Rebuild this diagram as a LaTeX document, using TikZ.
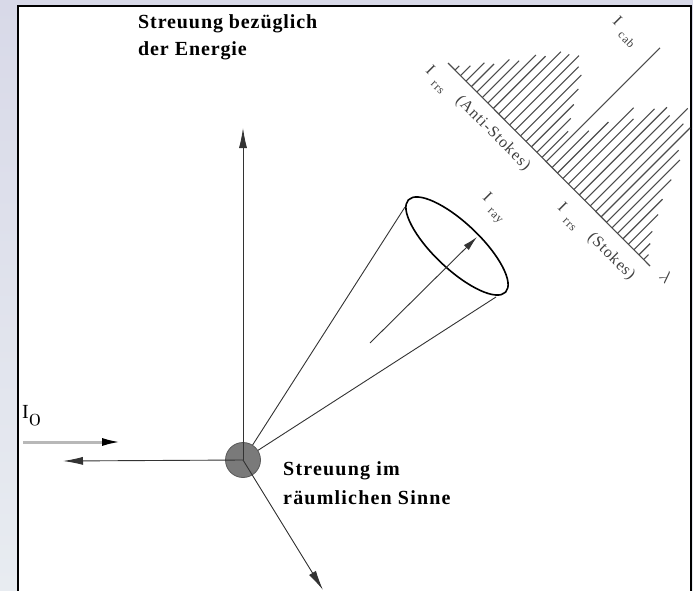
\documentclass[tikz,border=0pt]{standalone}
\usepackage{fontspec}
\setmainfont{Liberation Serif}
\newfontfamily\specfont[LetterSpace=6]{Liberation Serif}
\newfontfamily\topcapfont[LetterSpace=4.5]{Liberation Serif}
\newfontfamily\lowcapfont[LetterSpace=6]{Liberation Serif}
\usetikzlibrary{arrows.meta}
% intensity symbol with a lowered index
\newcommand\isub[1]{I\hspace{8pt}\raisebox{-6pt}{\fontsize{12}{12}\selectfont #1}}
\begin{document}
\begin{tikzpicture}[x=1pt,y=-1pt,
  ink/.style={draw=black!80, line width=0.9pt},
  axisarrow/.style={ink, -{Latex[length=20pt,width=8pt]}},
  specline/.style={draw=black!70, line width=1.1pt},
  speclabel/.style={rotate=-45, anchor=base west, inner sep=0pt, text=black!75,
                    font=\specfont\fontsize{16}{16}\selectfont},
  caption/.style={align=left, anchor=north west, inner sep=0pt}
]
\useasboundingbox (0,0) rectangle (693,591);

% backdrop and sheet
\shade[top color={rgb,255:red,216;green,217;blue,232},
       bottom color={rgb,255:red,232;green,236;blue,241}] (0,0) rectangle (693,591);
\filldraw[fill=white, draw=black, line width=2pt] (18,6) rectangle (690.5,600);

% captions
\node[caption, font=\topcapfont\bfseries\fontsize{20}{27}\selectfont] (energy) at (138,14)
  {Streuung bezüglich\\der Energie};
\node[caption, font=\lowcapfont\bfseries\fontsize{20}{29}\selectfont] (space) at (283,461)
  {Streuung im\\räumlichen Sinne};

% scattering cone
\coordinate (apex) at (243,460);
\coordinate (rimA) at (405,207);
\coordinate (rimB) at (496,297);
\draw[ink] (apex) -- (rimA);
\draw[ink] (apex) -- (rimB);
\draw[line width=1.6pt, rotate around={-43.5:(457,246)}]
  (457,246) ellipse [x radius=67pt, y radius=23pt];
\coordinate (rayS) at (370,343);
\coordinate (rayE) at (477,237);
\draw[ink, -{Latex[length=15pt,width=7pt]}] (rayS) -- (rayE);

% scattering particle and outgoing directions
\node[circle, fill=black!52, draw=black!65, line width=0.8pt,
      minimum size=35pt, inner sep=0pt] (p) at (243,460) {};
\coordinate (up) at (243,128);
\coordinate (back) at (63,461);
\coordinate (down) at (323,590);
\draw[axisarrow] (p.center) -- (up);
\draw[axisarrow] (p.center) -- (back);
\draw[axisarrow] (p.center) -- (down);

% incident beam
\coordinate (inS) at (23,442);
\coordinate (inE) at (122,442);
\draw[line width=3pt, draw=black!28, -{Latex[length=20pt,width=8pt,color=black]}] (inS) -- (inE);
\node[anchor=base west, inner sep=0pt, font=\fontsize{20}{20}\selectfont] (i0) at (22,418)
  {I\raisebox{-7pt}{\fontsize{28}{28}\selectfont$\mathnormal{0}$}};

% spectrum
\coordinate (b0) at (448,63);
\coordinate (b1) at (650,266);
\draw[specline] (b0) -- (b1);
\foreach \t/\h in {0.035/6, 0.062/14, 0.089/26, 0.116/32, 0.143/46, 0.17/52, 0.197/68,
                   0.224/74, 0.251/88, 0.278/92, 0.305/98, 0.332/90, 0.359/86,
                   0.386/74, 0.413/60, 0.44/48, 0.465/37,
                   0.486/161,
                   0.515/52, 0.542/72, 0.569/100, 0.596/92, 0.623/114, 0.65/124, 0.677/120,
                   0.704/138, 0.731/124, 0.758/126, 0.785/102, 0.812/96, 0.839/76,
                   0.866/56, 0.893/42, 0.92/26, 0.945/16, 0.968/7}
  \draw[specline] ({448+202*\t},{63+203*\t}) -- ++({0.707*\h},{-0.707*\h});

\node[speclabel] (cab) at (612,22) {\isub{cab}};
\node[speclabel] (as) at (425,71) {\isub{rrs}\hspace{15pt}(Anti-Stokes)};
\node[speclabel] (ray) at (482,198) {\isub{ray}};
\node[speclabel] (st) at (557,208) {\isub{rrs}\hspace{15pt}(Stokes)};
\node[rotate=-45, inner sep=0pt, text=black!75, font=\fontsize{18}{18}\selectfont]
  (lam) at (666,277) {$\lambda$};
\end{tikzpicture}
\end{document}
